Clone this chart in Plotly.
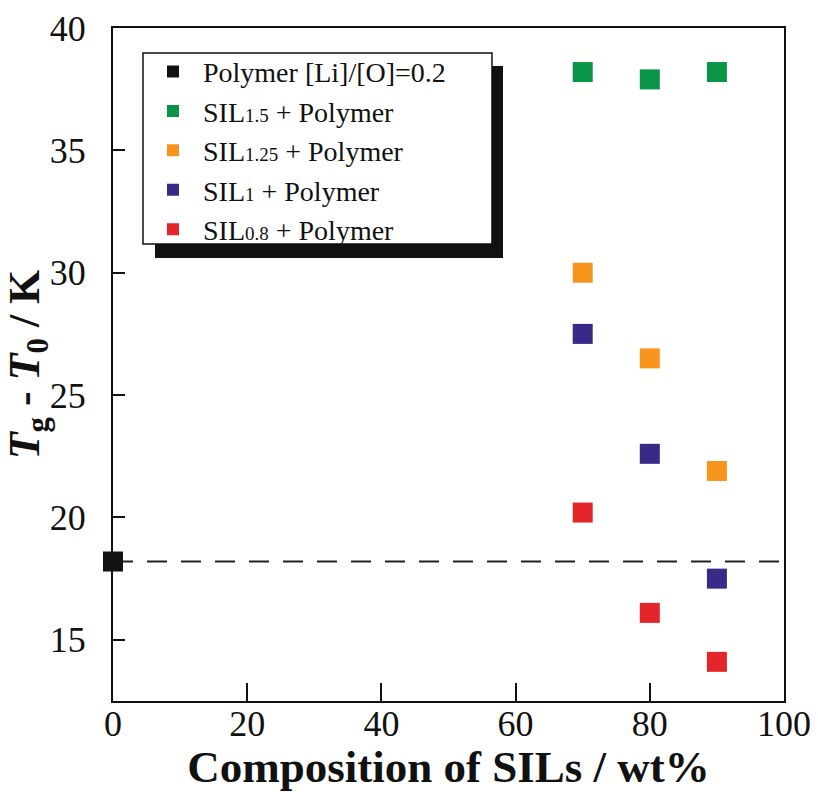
import plotly.graph_objects as go

# Composition of SILs (wt%) and glass-transition offsets Tg - T0 (K)
polymer_x = [0]
polymer_y = [18.2]

sil_x = [70, 80, 90]
sil15_y = [38.2, 37.9, 38.2]
sil125_y = [30.0, 26.5, 21.9]
sil1_y = [27.5, 22.6, 17.5]
sil08_y = [20.2, 16.1, 14.1]


def sil_label(sub):
    return f"SIL<span style='font-size:19px'>{sub}</span> + Polymer"


series = [
    ("Polymer [Li]/[O]=0.2", polymer_x, polymer_y, "#111111"),
    (sil_label("1.5"), sil_x, sil15_y, "#0a9447"),
    (sil_label("1.25"), sil_x, sil125_y, "#f7941d"),
    (sil_label("1"), sil_x, sil1_y, "#3a2a88"),
    (sil_label("0.8"), sil_x, sil08_y, "#e2262a"),
]

SERIF = "Liberation Serif, Times New Roman, serif"

fig = go.Figure()
for name, xs, ys, color in series:
    fig.add_trace(go.Scatter(
        x=xs, y=ys, mode="markers", name=name,
        marker=dict(symbol="square", size=20, color=color, line=dict(width=0)),
        cliponaxis=False,
    ))

# Reference level of the neat polymer
fig.add_shape(type="line", xref="x", yref="y", x0=0, x1=100,
              y0=polymer_y[0], y1=polymer_y[0],
              line=dict(color="#222222", width=2, dash="20px,14px"), layer="below")

# Legend frame: drop shadow, then white box with a thin border
fig.add_shape(type="rect", xref="paper", yref="paper",
              x0=0.0626, x1=0.5812, y0=0.6582, y1=0.9435,
              fillcolor="#111111", line=dict(width=0), layer="above")
fig.add_shape(type="rect", xref="paper", yref="paper",
              x0=0.0447, x1=0.5648, y0=0.679, y1=0.9629,
              fillcolor="white", line=dict(color="#111111", width=1.5), layer="above")

axis_common = dict(
    showline=True, linecolor="#111111", linewidth=2, mirror=True,
    ticks="inside", tickcolor="#111111", tickwidth=2,
    showgrid=False, zeroline=False, automargin=False,
    tickfont=dict(family=SERIF, size=36, color="#111111"),
)

fig.update_xaxes(range=[0, 100], tickvals=[0, 20, 40, 60, 80, 100], ticklen=18,
                 ticklabelstandoff=-10,
                 title=dict(text="<b>Composition of SILs / wt%</b>",
                            font=dict(family=SERIF, size=45, color="#111111"), standoff=0),
                 **axis_common)
fig.update_yaxes(range=[12.5, 40], tickvals=[15, 20, 25, 30, 35, 40], ticklen=12,
                 ticklabelstandoff=18,
                 title=dict(text="<b><i>T</i><sub>g</sub> - <i>T</i><sub>0</sub> / K</b>",
                            font=dict(family=SERIF, size=44, color="#111111"), standoff=8),
                 **axis_common)

fig.update_layout(
    width=818, height=792,
    margin=dict(l=113, r=34, t=28, b=91),
    plot_bgcolor="white", paper_bgcolor="white",
    showlegend=True,
    legend=dict(x=0.0447, y=0.972, xanchor="left", yanchor="top",
                bgcolor="rgba(0,0,0,0)", borderwidth=0,
                font=dict(family=SERIF, size=28, color="#111111"),
                itemsizing="constant", itemwidth=50, tracegroupgap=0),
)

fig.write_html("out.html")
